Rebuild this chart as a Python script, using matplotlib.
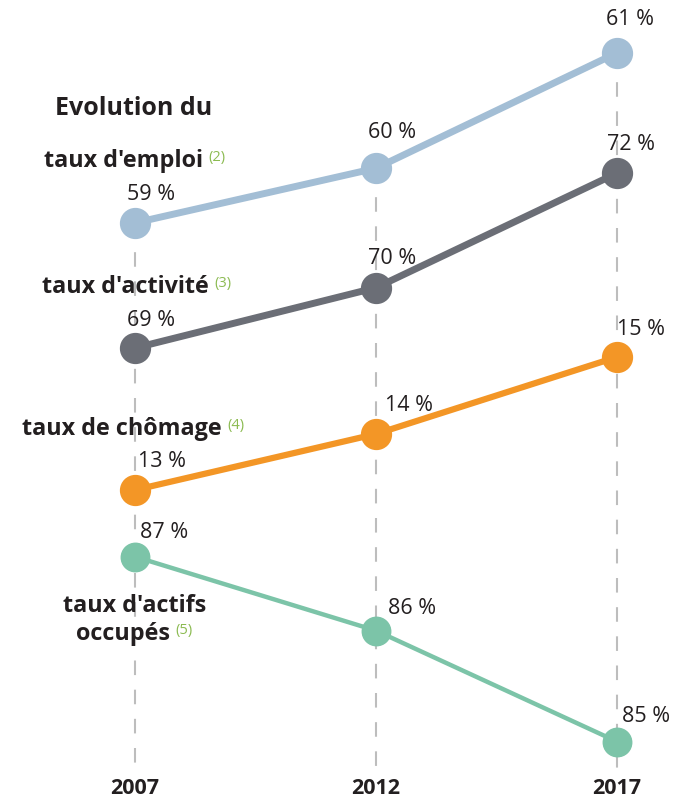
import matplotlib
matplotlib.use("Agg")
import matplotlib.pyplot as plt
from matplotlib.transforms import blended_transform_factory

# ---------------- data ----------------
years = ["2007", "2012", "2017"]
emploi = [58.6, 59.5, 61.4]          # taux d'emploi
emploi_lbl = ["59 %", "60 %", "61 %"]
activite = [69.1, 70.1, 72.0]         # taux d'activité
activite_lbl = ["69 %", "70 %", "72 %"]
chomage = [13.0, 13.8, 14.9]          # taux de chômage
chomage_lbl = ["13 %", "14 %", "15 %"]
occupes = [87.0, 86.2, 85.0]          # taux d'actifs occupés
occupes_lbl = ["87 %", "86 %", "85 %"]

# ---------------- styling / layout ----------------
W, H = 675, 798
DPI = 100
PT = 0.72  # points per pixel
TXT = "#231f20"
GREEN_NOTE = "#8cbb52"
FONT = "Open Sans"

series = [
    dict(v=emploi, l=emploi_lbl, c="#a3bed5", lw=5.0, ms=21.5, ylim=(49.13, 62.27),
         off=[(-8, 28), (-8, 36), (-11, 33)]),
    dict(v=activite, l=activite_lbl, c="#6b6e76", lw=5.0, ms=21.5, ylim=(61.64, 74.87),
         off=[(-8, 28), (-8, 29), (-10, 29)]),
    dict(v=chomage, l=chomage_lbl, c="#f39626", lw=4.5, ms=21.5, ylim=(8.6, 20.0),
         off=[(3, 28), (9, 28), (0, 27)]),
    dict(v=occupes, l=occupes_lbl, c="#7cc4a8", lw=3.2, ms=20.5, ylim=(84.39, 93.02),
         off=[(5, 24), (12, 22), (5, 25)]),
]

XLIM = (-0.560, 2.2407)
x = list(range(len(years)))

fig = plt.figure(figsize=(W / DPI, H / DPI), dpi=DPI)
fig.patch.set_facecolor("white")

ax0 = fig.add_axes([0, 0, 1, 1])
ax0.set_xlim(*XLIM)
ax0.set_ylim(0, 1)
ax0.axis("off")

axes = []
for i, s in enumerate(series):
    ax = fig.add_axes([0, 0, 1, 1], zorder=1 + i)
    ax.set_xlim(*XLIM)
    ax.set_ylim(*s["ylim"])
    ax.axis("off")
    ax.patch.set_alpha(0)
    axes.append(ax)

# dashed guide lines: from the top series down to the bottom of the chart
axe = axes[0]
y0, y1 = series[0]["ylim"]
bottom_val = y0 + (1 - 770 / H) * (y1 - y0)
for xi, v in zip(x, emploi):
    axe.plot([xi, xi], [v, bottom_val], color="#bdbdbd", lw=1.5,
             dashes=(7, 7), zorder=0, solid_capstyle="butt")

for ax, s in zip(axes, series):
    ax.plot(x, s["v"], color=s["c"], lw=s["lw"], marker="o", ms=s["ms"],
            mec=s["c"], mfc=s["c"], zorder=3, solid_capstyle="butt")
    for xi, v, lab, (dx, dy) in zip(x, s["v"], s["l"], s["off"]):
        ax.annotate(lab, xy=(xi, v), xytext=(dx * PT, dy * PT),
                    textcoords="offset points", ha="left", va="center",
                    fontsize=15.5, color=TXT, family=FONT, zorder=5)

# year labels
tr = blended_transform_factory(ax0.transData, fig.transFigure)
for xi, yr in zip(x, years):
    ax0.text(xi, 1 - 788 / H, yr, transform=tr, ha="center", va="center",
             fontsize=15.5, fontweight="bold", color=TXT, family=FONT)

# left-hand labels
def fpos(px, py):
    return px / W, 1 - py / H

top_ax = axes[-1]

def label(px, py, text, note=None, ha="left", size=16.8):
    t = fig.text(*fpos(px, py), text, ha=ha, va="baseline", fontsize=size,
                 fontweight="bold", color=TXT, family=FONT, zorder=10)
    if note:
        top_ax.annotate(note, xy=(1, 1), xycoords=t, xytext=(4, -1),
                        textcoords="offset points", ha="left", va="top",
                        fontsize=10.5, color=GREEN_NOTE, family=FONT,
                        annotation_clip=False)
    return t

label(55, 115, "Evolution du", size=18)
label(44, 167, "taux d'emploi", "(2)")
label(42, 293, "taux d'activité", "(3)")
label(22, 435, "taux de chômage", "(4)")
label(135, 612, "taux d'actifs", ha="center")
label(123, 640, "occupés", "(5)", ha="center")

fig.savefig("out.png", dpi=DPI)
